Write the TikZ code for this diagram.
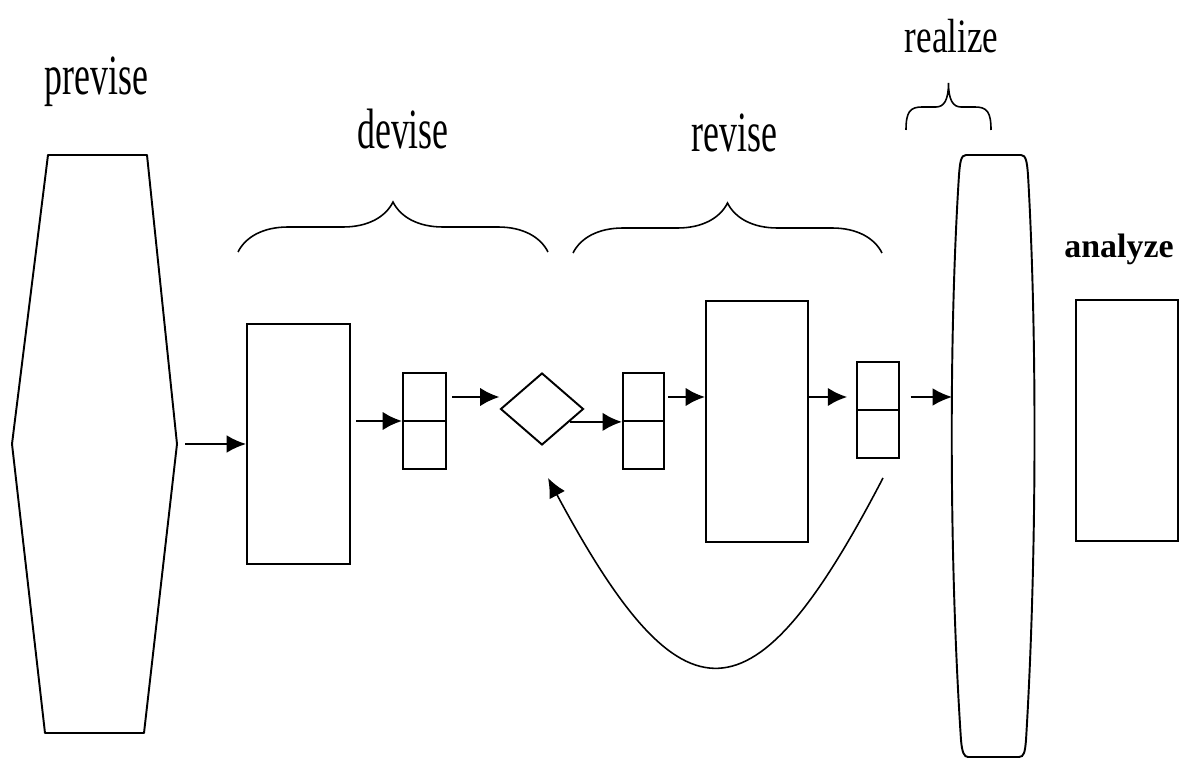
\documentclass[tikz,border=0pt]{standalone}
\usepackage{fontspec}
\usepackage{tikz}
\usetikzlibrary{arrows.meta,shapes.geometric,decorations.pathreplacing}
\newfontfamily\phasefont[FakeStretch=0.63]{Liberation Serif}
\newfontfamily\realfont[FakeStretch=0.73]{Liberation Serif}
\newfontfamily\anafont{Liberation Serif}

\begin{document}
\begin{tikzpicture}[x=0.02cm,y=-0.02cm,
		box/.style={rectangle,draw,line width=1.1pt,inner sep=0pt},
		flow/.style={line width=1.5pt,-{Latex[length=11pt,width=10.5pt]}},
		thinflow/.style={line width=1pt,-{Latex[length=11pt,width=10pt]}},
		loopback/.style={line width=0.9pt,-{Latex[length=11pt,width=10pt]}},
		phasebrace/.style={decorate,decoration={brace,amplitude=#1},line width=0.9pt},
		phaselabel/.style={anchor=base,inner sep=0pt,font=\phasefont\fontsize{32.4}{36}\selectfont}]
		\useasboundingbox (0,0) rectangle (1180,759);
%		\draw[help lines,step=50] (0,0) grid (1180,759);
		\path (96.5,95) coordinate (previse);
		\path (403,149) coordinate (devise);
		\path (734.5,152) coordinate (revise);
		\path (951.5,53) coordinate (realize);
		\path (1119,258) coordinate (analyze);

		\path (238,252) coordinate (devise_bl);
		\path (548,252) coordinate (devise_br);
		\path (573,253) coordinate (revise_bl);
		\path (882,253) coordinate (revise_br);
		\path (906,130) coordinate (realize_bl);
		\path (948.5,83) coordinate (realize_tip);
		\path (991,130) coordinate (realize_br);

		\path (298.5,444) coordinate (devise_c);
		\path (424.5,421) coordinate (devsplit_c);
		\path (542,409) coordinate (check_c);
		\path (643.5,421) coordinate (revsplit_c);
		\path (757,421.5) coordinate (revise_c);
		\path (878,410) coordinate (outsplit_c);
		\path (1127,420.5) coordinate (analyze_c);

		\path (177,444) coordinate (hex_r);
		\path (185,444) coordinate (hex_out);
		\path (0,397) coordinate (hiflow);
		\path (952,397) coordinate (real_in);
		\path (883,478) coordinate (loop_l);
		\path (548,478) coordinate (loop_r);

		% labels
		\draw (previse) node(previse_lbl) [phaselabel] {previse};
		\draw (devise) node(devise_lbl) [phaselabel] {devise};
		\draw (revise) node(revise_lbl) [phaselabel] {revise};
		\draw (realize) node(realize_lbl) [anchor=base,inner sep=0pt,font=\realfont\fontsize{27.3}{30}\selectfont] {realize};
		\draw (analyze) node(analyze_lbl) [anchor=base,inner sep=0pt,font=\anafont\bfseries\fontsize{19.3}{22}\selectfont] {analyze};

		% braces
		\draw[phasebrace=1cm] (devise_bl) -- (devise_br);
		\draw[phasebrace=1cm] (revise_bl) -- (revise_br);
		\draw[line width=0.9pt] (realize_bl) .. controls (906,112) and (910,107) .. (922,107) -- (936,107)
			.. controls (944,107) and (948.5,100) .. (realize_tip)
			.. controls (948.5,100) and (953,107) .. (961,107) -- (975,107)
			.. controls (987,107) and (991,112) .. (realize_br);

		% previse hexagon
		\draw[line width=1.1pt,line join=round] (48,155) -- (147,155) -- (hex_r) -- (144,733) -- (45,733) -- (12,444) -- cycle;

		% devise
		\draw (devise_c) node(devise_box) [box,minimum width=2.06cm,minimum height=4.8cm] {};
		\draw (devsplit_c) node(devise_split) [box,minimum width=0.86cm,minimum height=1.92cm] {};
		\draw[line width=1.1pt] (devise_split.west) -- (devise_split.east);
		\draw (check_c) node(check_dmd) [diamond,draw,line width=1.1pt,inner sep=0pt,minimum width=1.66cm,minimum height=1.44cm] {};

		% revise
		\draw (revsplit_c) node(revise_split) [box,minimum width=0.82cm,minimum height=1.92cm] {};
		\draw[line width=1.1pt] (revise_split.west) -- (revise_split.east);
		\draw (revise_c) node(revise_box) [box,minimum width=2.04cm,minimum height=4.82cm] {};
		\draw (outsplit_c) node(out_split) [box,minimum width=0.84cm,minimum height=1.92cm] {};
		\draw[line width=1.1pt] (out_split.west) -- (out_split.east);

		% realize barrel
		\draw[line width=1.1pt] (966,155) -- (1021,155) .. controls (1026,155) and (1027,162) .. (1028,175)
			.. controls (1037,330) and (1037,560) .. (1026,740)
			.. controls (1025,752) and (1024,757) .. (1019,757) -- (968,757)
			.. controls (964,757) and (962,752) .. (961,740)
			.. controls (949,560) and (949,330) .. (959,175)
			.. controls (960,162) and (961,155) .. (966,155) -- cycle;

		% analyze
		\draw (analyze_c) node(analyze_box) [box,minimum width=2.04cm,minimum height=4.82cm] {};

		% flow
		\draw[thinflow] (hex_out) -- (devise_box.west);
		\draw[flow,shorten <=3pt] (devise_box.east |- devise_split.west) -- (devise_split.west);
		\draw[flow,shorten <=3pt] (devise_split.east |- hiflow) -- (check_dmd.west |- hiflow);
		\draw[flow] (check_dmd.-25) -- (check_dmd.-25 -| revise_split.west);
		\draw[flow,shorten <=2pt] (revise_split.east |- hiflow) -- (revise_box.west |- hiflow);
		\draw[flow,shorten >=5pt] (revise_box.east |- hiflow) -- (out_split.west |- hiflow);
		\draw[thinflow,shorten <=6pt] (out_split.east |- hiflow) -- (real_in);
		\draw[loopback] (loop_l) .. controls (753,728) and (683,730) .. (loop_r);
	\end{tikzpicture}
\end{document}
